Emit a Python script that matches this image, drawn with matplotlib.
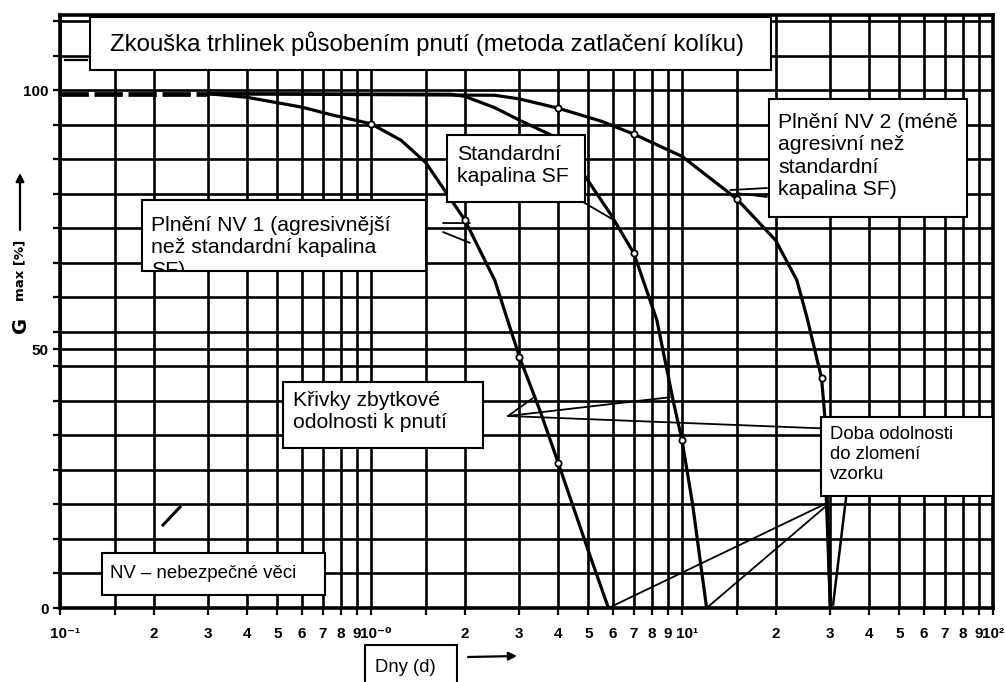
import numpy as np
import matplotlib.pyplot as plt
from matplotlib.patches import Rectangle
from matplotlib.lines import Line2D
from matplotlib.ticker import NullFormatter
from matplotlib.transforms import ScaledTranslation

W, H = 1005, 682

# zbytková odolnost k pnutí [%] v závislosti na době zkoušky [dny]
start_days = [0.1, 0.3]
start_pct = [99.3, 99.3]

nv1_days = [0.3, 0.4, 0.6, 0.75, 1.0, 1.25, 1.5, 2.0, 2.5, 3.0, 3.5, 4.0, 5.0, 5.8]
nv1_pct = [99.3, 98.6, 96.7, 95.2, 93.5, 90.3, 86.0, 75.0, 63.3, 48.5, 38.0, 28.0, 11.0, 0.0]

sf_days = [0.3, 1.8, 2.0, 2.5, 3.0, 3.8, 4.9, 5.9, 7.0, 8.3, 9.4, 10.0, 10.8, 12.0]
sf_pct = [99.3, 99.2, 98.8, 96.6, 94.2, 91.3, 83.2, 76.0, 68.5, 55.6, 39.6, 32.4, 20.3, 0.0]

nv2_days = [0.3, 2.5, 3.0, 4.0, 5.5, 7.0, 10.0, 15.0, 20.0, 23.4, 25.2, 28.1, 28.8, 30.0]
nv2_pct = [99.3, 99.0, 98.3, 96.5, 94.0, 91.5, 87.2, 79.0, 71.0, 63.3, 56.2, 44.4, 36.9, 0.0]

# body měření vyznačené na křivkách
nv1_marked = [1.0, 2.0, 3.0, 4.0]
sf_marked = [7.0, 10.0]
nv2_marked = [4.0, 7.0, 15.0, 28.1]

x_ticks = [m * d for d in (0.1, 1, 10) for m in range(1, 10)] + [100]
decade_labels = {0.1: '10\u207b\u00b9', 1: '10\u207b\u2070', 10: '10\u00b9', 100: '10\u00b2'}
half_ticks = [0.15, 1.5, 15]
y_labels = [0, 50, 100]
y_grid = [k * 100 / 15 for k in range(18)] + [50]

fig = plt.figure(figsize=(W / 100, H / 100), dpi=100)
ax = fig.add_axes([60 / W, 1 - 608 / H, 933 / W, 593 / H])
ax.set_xscale('log')
ax.set_xlim(0.1, 100)
ax.set_ylim(0, 114.5)

labels = []
for t in x_ticks:
    key = round(t, 6)
    labels.append(decade_labels.get(key, str(int(round(t / 10 ** np.floor(np.log10(t) + 1e-9))))))
ax.set_xticks(x_ticks)
ax.set_xticklabels(labels)
ax.set_xticks(half_ticks, minor=True)
ax.xaxis.set_minor_formatter(NullFormatter())
ax.set_yticks(y_labels)
ax.set_yticks(y_grid, minor=True)
ax.grid(True, which='both', color='black', lw=1.9)
ax.tick_params(which='both', direction='out', length=5, width=1.6, color='black')
ax.tick_params(axis='x', pad=9)
ax.tick_params(axis='y', pad=3)
for lab in ax.get_xticklabels() + ax.get_yticklabels():
    lab.set_family(['Liberation Sans Narrow', 'Liberation Sans', 'DejaVu Sans'])
    lab.set_fontweight('bold')
    lab.set_fontsize(11)

# u mocnin deseti stojí pod čarou samotná "10", exponent vybíhá doprava
shift = ScaledTranslation(5 / 100, 0, fig.dpi_scale_trans)
for lab in ax.get_xticklabels():
    if lab.get_text() in list(decade_labels.values())[:3]:
        lab.set_transform(lab.get_transform() + shift)

for s in ax.spines.values():
    s.set_linewidth(2.6)

# křivky
ax.plot(start_days, start_pct, color='black', lw=3.4, ls=(0, (6, 1.2)), solid_capstyle='butt')
for xs, ys, marked in ((nv1_days, nv1_pct, nv1_marked),
                       (sf_days, sf_pct, sf_marked),
                       (nv2_days, nv2_pct, nv2_marked)):
    ax.plot(xs, ys, color='black', lw=2.3)
    mx = [x for x in xs if x in marked]
    my = [y for x, y in zip(xs, ys) if x in marked]
    ax.plot(mx, my, 'o', ms=4.5, mfc='white', mec='black', mew=1.3, zorder=4)


def leader(x, y, px, py, lw=1.3):
    ax.annotate('', xy=(x, y), xycoords='data',
                xytext=(px / W, 1 - py / H), textcoords='figure fraction',
                arrowprops=dict(arrowstyle='-', lw=lw, color='black',
                                shrinkA=0, shrinkB=0))


# odkazové čáry k popiskům
leader(2.08, 74.3, 443, 223)
leader(2.08, 70.5, 443, 232)
leader(6.0, 75.0, 583, 202)
leader(14.3, 80.7, 767, 188)
leader(15.0, 80.1, 767, 197)
leader(3.31, 40.5, 508, 416)
leader(9.15, 40.7, 508, 416)
leader(27.8, 34.7, 508, 416)
leader(nv1_days[-1], nv1_pct[-1], 825, 504)
leader(sf_days[-1], sf_pct[-1], 825, 507)
leader(nv2_days[-1], nv2_pct[-1], 826, 490, lw=2.3)
leader(30.6, 0.6, 847, 490, lw=1.8)

# drobné tahy pera na papíře
fig.add_artist(Line2D([65 / W, 87 / W], [1 - 60 / H, 1 - 60 / H], color='black', lw=1.6))
fig.add_artist(Line2D([163 / W, 180 / W], [1 - 525 / H, 1 - 507 / H], color='black', lw=2.2))


def label_box(x0, y0, x1, y1, text, size, tx, ty, va='top', clip=False):
    rect = Rectangle((x0 / W, 1 - y1 / H), (x1 - x0) / W, (y1 - y0) / H,
                     transform=fig.transFigure, facecolor='white',
                     edgecolor='black', lw=1.5, zorder=5)
    fig.add_artist(rect)
    t = fig.text(tx / W, 1 - ty / H, text, fontsize=size, family='Liberation Sans',
                 ha='left', va=va, linespacing=1.22, zorder=6)
    if clip:
        t.set_clip_path(rect)
        t.set_clip_on(True)
    return t


label_box(90, 17, 771, 70, 'Zkouška trhlinek působením pnutí (metoda zatlačení kolíku)',
          17.3, 110, 44, va='center')
label_box(447, 135, 585, 202, 'Standardní\nkapalina SF', 15.3, 457, 145)
label_box(142, 200, 426, 271, 'Plnění NV 1 (agresivnější\nnež standardní kapalina\nSF)',
          15.3, 151, 216, clip=True)
label_box(769, 99, 967, 217, 'Plnění NV 2 (méně\nagresivní než\nstandardní\nkapalina SF)',
          15.3, 778, 113)
label_box(283, 382, 483, 448, 'Křivky zbytkové\nodolnosti k pnutí', 15.2, 293, 391)
label_box(102, 553, 325, 595, 'NV – nebezpečné věci', 13.4, 110, 574, va='center')
label_box(821, 417, 993, 496, 'Doba odolnosti\ndo zlomení\nvzorku', 13.3, 830, 426)
label_box(365, 645, 457, 700, 'Dny (d)', 13.3, 375, 667, va='center')

# popis osy y se šipkou
fig.text(20 / W, 1 - 325 / H, 'G', rotation=90, fontsize=14, fontweight='bold',
         ha='center', va='center')
fig.text(20 / W, 1 - 270 / H, 'max [%]', rotation=90, fontsize=9.5, fontweight='bold',
         ha='center', va='center')
arrow = dict(arrowstyle='-|>', lw=1.6, color='black', mutation_scale=12,
             shrinkA=0, shrinkB=0)
ax.annotate('', xy=(20 / W, 1 - 173 / H), xytext=(20 / W, 1 - 230 / H),
            xycoords='figure fraction', arrowprops=arrow)
ax.annotate('', xy=(517 / W, 1 - 656 / H), xytext=(468 / W, 1 - 657 / H),
            xycoords='figure fraction', arrowprops=arrow)

fig.savefig('out.png', dpi=100)
